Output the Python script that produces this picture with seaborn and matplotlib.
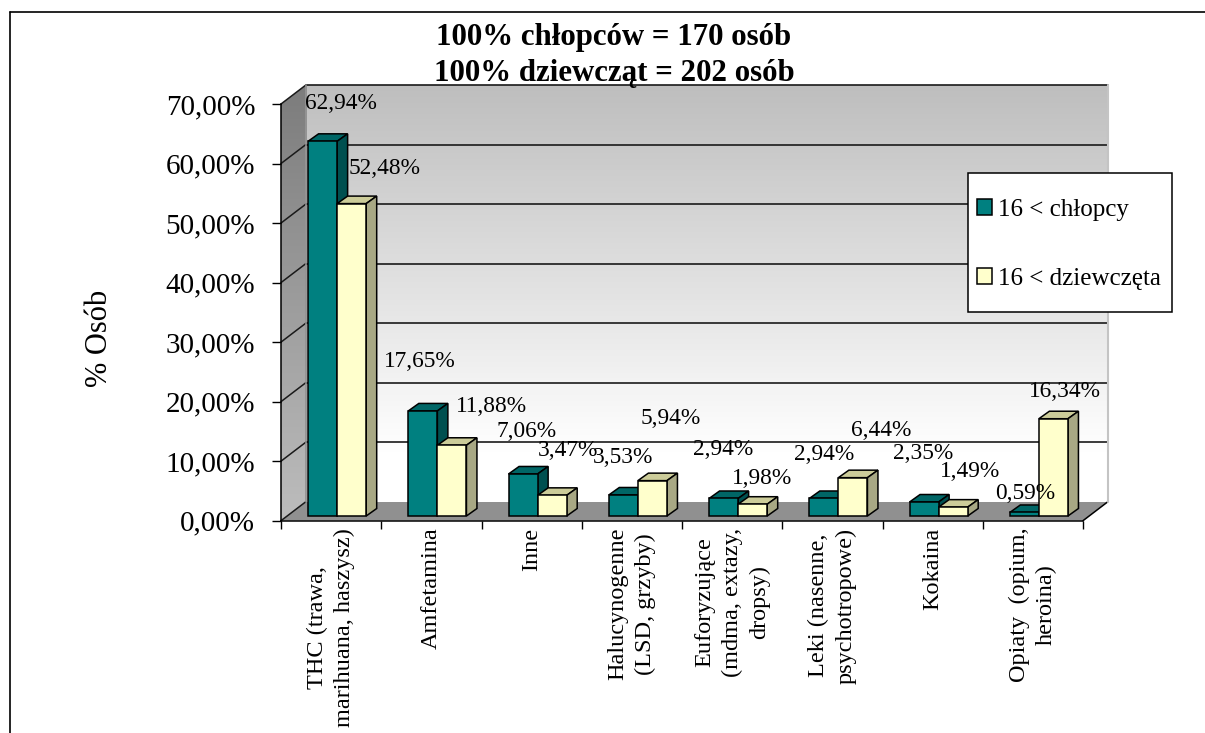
import numpy as np
import pandas as pd
import matplotlib
matplotlib.use("Agg")
import matplotlib.pyplot as plt
from matplotlib.colors import LinearSegmentedColormap
from matplotlib.lines import Line2D
from matplotlib.patches import Polygon, Rectangle
from matplotlib.transforms import Affine2D, IdentityTransform
import seaborn as sns

# Survey results
categories = [
    "THC (trawa,\nmarihuana, haszysz)", "Amfetamina", "Inne",
    "Halucynogenne\n(LSD, grzyby)", "Euforyzujące\n(mdma, extazy,\ndropsy)",
    "Leki (nasenne,\npsychotropowe)", "Kokaina", "Opiaty  (opium,\nheroina)",
]
boys = [62.94, 17.65, 7.06, 3.53, 2.94, 2.94, 2.35, 0.59]
girls = [52.48, 11.88, 3.47, 5.94, 1.98, 6.44, 1.49, 16.34]
series_names = ["16 < chłopcy", "16 < dziewczęta"]
title_lines = "100% chłopców = 170 osób\n100% dziewcząt = 202 osób"
y_title = "% Osób"

# Hand placement of value labels, in pixels from the top centre of each bar
boys_label_dx = [18, -3, 3, 0, 0, 0, -1, 1]
boys_label_dy = [38, 49, 42, 37, 49, 44, 49, 19]
girls_label_dx = [33, 40, 16, 18, 9, 28, 17, 12]
girls_label_dy = [35, 39, 45, 62, 26, 47, 36, 27]

W, H = 1205, 733
WALL_DX, WALL_DY = 24.5, 18.7     # depth of the chart box
BAR_DX, BAR_DY = 6, 4.7           # bars stand slightly inside the floor
DEPTH_DX, DEPTH_DY = 10.5, 7.5    # depth of each bar

sns.set_style("white", {"text.color": "black", "axes.labelcolor": "black",
                        "xtick.color": "black", "ytick.color": "black"})
plt.rcParams["font.family"] = ["Liberation Serif", "DejaVu Sans"]

df = pd.DataFrame({
    "kategoria": categories * 2,
    "procent": boys + girls,
    "grupa": [series_names[0]] * 8 + [series_names[1]] * 8,
})

fig = plt.figure(figsize=(W / 100, H / 100), dpi=100)
fig.patch.set_facecolor("white")


def px_axes(x0, y_top, x1, y_bottom, **kw):
    return fig.add_axes([x0 / W, 1 - y_bottom / H, (x1 - x0) / W, (y_bottom - y_top) / H], **kw)


ax = px_axes(281, 104, 1083, 520.7, zorder=3)
ax.patch.set_visible(False)
sns.barplot(data=df, x="kategoria", y="procent", hue="grupa", ax=ax,
            palette=["#008080", "#FFFFCC"], saturation=1, width=0.58,
            edgecolor="black", linewidth=1.1, dodge=True)
ax.set_xlim(-0.5, 7.5)
ax.set_ylim(0, 70)
ax.set_xlabel("")
ax.set_ylabel(y_title, fontsize=22)
ax.yaxis.set_label_coords(-0.208, 0.437)

ax.set_yticks(np.arange(0, 71, 10))
ax.set_yticklabels([f"{v:.2f}".replace(".", ",") + "%" for v in np.arange(0, 71, 10)],
                   fontsize=21)
ax.tick_params(axis="y", length=6.5, width=1.0, color="black", pad=12, left=True)
ax.set_xticks(np.arange(8))
ax.set_xticklabels(categories, rotation=90, fontsize=17.5, va="top", ha="center",
                   multialignment="center", linespacing=1.38)
ax.set_xticks(np.arange(-0.5, 8), minor=True)
ax.tick_params(axis="x", which="major", length=0, pad=5)
ax.tick_params(axis="x", which="minor", length=5.5, width=1.0, color="black", bottom=True)
for side in ("top", "right"):
    ax.spines[side].set_visible(False)
for side in ("left", "bottom"):
    ax.spines[side].set_color("black")
    ax.spines[side].set_linewidth(1.1)

to_px = ax.transData.transform
ident = IdentityTransform()


def to_back(xv, yv):
    p = to_px((xv, yv))
    return p[0] + WALL_DX, p[1] + WALL_DY


# Back wall and left wall, both shaded vertically
x_l, y_b = to_px((-0.5, 0))
x_r, y_t = to_px((7.5, 70))
back_grad = LinearSegmentedColormap.from_list(
    "back", [(0, "#FFFFFF"), (0.12, "#FFFFFF"), (1, "#BEBEBE")])
side_grad = LinearSegmentedColormap.from_list("side", ["#BDBDBD", "#7C7C7C"])
ramp = np.linspace(1, 0, 256).reshape(-1, 1)

ax_back = px_axes(x_l + WALL_DX, H - y_t - WALL_DY, x_r + WALL_DX, H - y_b - WALL_DY, zorder=1)
ax_back.imshow(ramp, aspect="auto", cmap=back_grad, vmin=0, vmax=1)
ax_back.axis("off")

ax_side = px_axes(x_l, H - y_t - WALL_DY, x_l + WALL_DX, H - y_b, zorder=1)
side_img = ax_side.imshow(ramp, aspect="auto", cmap=side_grad, vmin=0, vmax=1)
ax_side.axis("off")
side_poly = Polygon([(x_l, y_b), (x_l + WALL_DX, y_b + WALL_DY), (x_l + WALL_DX, y_t + WALL_DY), (x_l, y_t)],
                    transform=ident, facecolor="none", edgecolor="none")
ax_side.add_patch(side_poly)
side_img.set_clip_path(side_poly)


def line_px(xs, ys, **kw):
    fig.add_artist(Line2D(xs, ys, transform=ident, zorder=kw.pop("zorder", 2), **kw))


# Floor
fig.add_artist(Polygon([(x_l, y_b), (x_l + WALL_DX, y_b + WALL_DY), (x_r + WALL_DX, y_b + WALL_DY), (x_r, y_b)],
                       transform=ident, facecolor="#909090", edgecolor="none", zorder=2))

# Gridlines run along the back wall and down the left wall
for v in range(0, 71, 10):
    bx0, by = to_back(-0.5, v)
    bx1, _ = to_back(7.5, v)
    if v > 0:
        line_px([bx0, bx1], [by, by], color="#1a1a1a", lw=1.2)
    line_px([x_l, bx0], [to_px((-0.5, v))[1], by], color="#1a1a1a", lw=1.1)
line_px([x_r, x_r + WALL_DX], [y_b, y_b + WALL_DY], color="black", lw=1.1)
line_px([x_l + WALL_DX] * 2, [y_b + WALL_DY, y_t + WALL_DY], color="#8a8a8a", lw=1.2)
line_px([x_r + WALL_DX] * 2, [y_b + WALL_DY, y_t + WALL_DY], color="#C4C4C4", lw=1.5)

# Extrude every bar: top and side faces, then the shifted front face
bar_shift = ax.transData + Affine2D().translate(BAR_DX, BAR_DY)
face_colors = [("#006666", "#005050"), ("#CCCC99", "#A8A884")]
label_offsets = [(boys_label_dx, boys_label_dy), (girls_label_dx, girls_label_dy)]
for k, (cont, values) in enumerate(zip(ax.containers, (boys, girls))):
    for i, (bar, val) in enumerate(zip(cont, values)):
        x0, x1 = bar.get_x(), bar.get_x() + bar.get_width()
        (ax0, ay0), (ax1, ay1) = bar_shift.transform([(x0, 0), (x1, bar.get_height())])
        top = [(ax0, ay1), (ax1, ay1), (ax1 + DEPTH_DX, ay1 + DEPTH_DY), (ax0 + DEPTH_DX, ay1 + DEPTH_DY)]
        side = [(ax1, ay0), (ax1 + DEPTH_DX, ay0 + DEPTH_DY), (ax1 + DEPTH_DX, ay1 + DEPTH_DY), (ax1, ay1)]
        z = 3 + k
        for pts, col in zip((top, side), face_colors[k]):
            ax.add_patch(Polygon(pts, transform=ident, facecolor=col, edgecolor="black",
                                 linewidth=1.1, zorder=z, clip_on=False))
        bar.set_transform(bar_shift)
        bar.set_clip_on(False)
        bar.set_zorder(z + 0.5)
        dx, dy = label_offsets[k][0][i], label_offsets[k][1][i]
        ax.text((ax0 + ax1) / 2 + dx, ay1 + dy, f"{val:.2f}".replace(".", ",") + "%",
                transform=ident, ha="center", va="center", fontsize=16.8, color="black",
                zorder=8, clip_on=False)

# Legend: its box is taller than the entries need, so the frame is drawn separately
fig.add_artist(Rectangle((968, H - 312), 204, 139, transform=ident, facecolor="white",
                         edgecolor="black", linewidth=1.1, zorder=2.9))
handles, labels = ax.get_legend_handles_labels()
leg = ax.legend(handles, labels, loc="upper left",
                bbox_to_anchor=(977 / W, 1 - 199 / H), bbox_transform=fig.transFigure,
                frameon=False, fontsize=18, handlelength=0.6, handleheight=0.6,
                handletextpad=0.25, labelspacing=1.87, borderpad=0, borderaxespad=0,
                title=None)
leg.set_zorder(10)

# Heading sits over the top edge of the wall
fig.text(614 / W, 1 - 55.5 / H, title_lines, ha="center", va="center", fontsize=22.2,
         fontweight="bold", linespacing=1.36, color="black", zorder=9)

# Outer frame of the embedded chart
line_px([10, 10], [0, H - 12], color="black", lw=1.2, zorder=1)
line_px([10, W], [H - 12, H - 12], color="black", lw=1.2, zorder=1)

fig.savefig("out.png", dpi=100)
